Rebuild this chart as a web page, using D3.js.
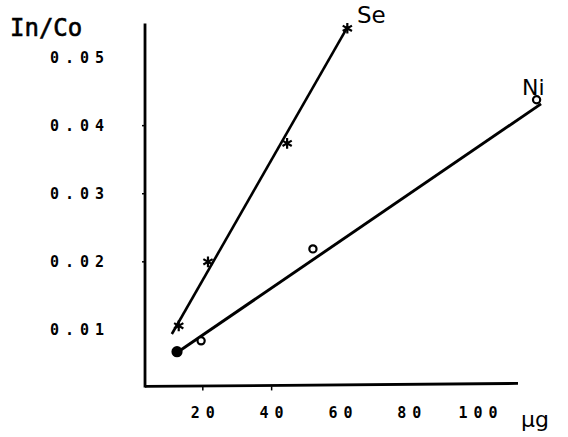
<!DOCTYPE html>
<html>
<head>
<meta charset="utf-8">
<script src="https://cdn.jsdelivr.net/npm/d3@7"></script>
<style>
  html, body { margin: 0; padding: 0; background: #fff; }
  svg { display: block; }
  .tick-label { font-family: "DejaVu Sans Mono", monospace; font-weight: bold; font-size: 15px; fill: #000; }
  .big { font-family: "DejaVu Sans Mono", monospace; fill: #000; }
</style>
</head>
<body>
<svg id="chart" width="568" height="437"></svg>
<script>
// Ratio In/Co versus amount (µg) for the Se and Ni series
const seX = [13, 21.5, 44.5, 62];
const seY = [0.0106, 0.0200, 0.0374, 0.0543];
const niX = [12.5, 19.5, 52, 117];
const niY = [0.0068, 0.0084, 0.0219, 0.0438];

// straight calibration lines (end points)
const seLineX = [11.0, 62.2];
const seLineY = [0.0094, 0.0546];
const niLineX = [11.9, 118.3];
const niLineY = [0.00646, 0.0432];

const yTickValues = [0.01, 0.02, 0.03, 0.04, 0.05];
const yTickLabels = ["0.01", "0.02", "0.03", "0.04", "0.05"];
const xTickValues = [20, 40, 60, 80, 100];
const xTickLabels = ["20", "40", "60", "80", "100"];

const svg = d3.select("#chart");

const x = d3.scaleLinear().domain([0, 111.6]).range([134, 518]);
const y = d3.scaleLinear().domain([0, 0.055]).range([398, 23.5]);

const xAxisStart = 3.2;
const yAxisStart = 0.0017;

// axes drawn as plain strokes
svg.append("line")
  .attr("x1", x(xAxisStart)).attr("x2", x(xAxisStart))
  .attr("y1", y(0.055)).attr("y2", y(yAxisStart) + 1)
  .attr("stroke", "#000").attr("stroke-width", 2.8);
svg.append("line")
  .attr("x1", x(xAxisStart)).attr("x2", x(111.6))
  .attr("y1", y(yAxisStart)).attr("y2", y(yAxisStart) - 3)
  .attr("stroke", "#000").attr("stroke-width", 2.8);

// small tick marks
svg.selectAll(".ytick").data([0.02, 0.03, 0.04]).enter().append("line")
  .attr("x1", x(xAxisStart) - 3).attr("x2", x(xAxisStart))
  .attr("y1", d => y(d)).attr("y2", d => y(d))
  .attr("stroke", "#000").attr("stroke-width", 1.5);
svg.selectAll(".xtick").data([20, 40]).enter().append("line")
  .attr("x1", d => x(d)).attr("x2", d => x(d))
  .attr("y1", y(yAxisStart)).attr("y2", y(yAxisStart) + 4)
  .attr("stroke", "#000").attr("stroke-width", 1.5);

// tick labels
svg.selectAll(".ylab").data(yTickValues).enter().append("text")
  .attr("class", "tick-label")
  .attr("x", 110)
  .attr("y", d => y(d) + 5)
  .attr("text-anchor", "end")
  .attr("letter-spacing", "6px")
  .text((d, i) => yTickLabels[i]);

svg.selectAll(".xlab").data(xTickValues).enter().append("text")
  .attr("class", "tick-label")
  .attr("x", d => x(d) + 3)
  .attr("y", 418)
  .attr("text-anchor", "middle")
  .attr("letter-spacing", "6px")
  .text((d, i) => xTickLabels[i]);

// axis titles
svg.append("text").attr("class", "big")
  .attr("x", 10).attr("y", 36).attr("font-size", 24)
  .attr("stroke", "#000").attr("stroke-width", 0.6)
  .text("In/Co");
svg.append("text")
  .attr("x", 521).attr("y", 427)
  .attr("font-family", "DejaVu Sans, sans-serif").attr("font-size", 22)
  .text("µg");

// fitted lines
const line = d3.line().x(d => x(d[0])).y(d => y(d[1]));
svg.append("path")
  .datum(d3.zip(seLineX, seLineY))
  .attr("d", line).attr("fill", "none")
  .attr("stroke", "#000").attr("stroke-width", 2.6);
svg.append("path")
  .datum(d3.zip(niLineX, niLineY))
  .attr("d", line).attr("fill", "none")
  .attr("stroke", "#000").attr("stroke-width", 2.9);

// Se markers: asterisks
const star = d3.symbol().type(d3.symbolAsterisk).size(80);
svg.selectAll(".se").data(d3.zip(seX, seY)).enter().append("path")
  .attr("d", star)
  .attr("transform", d => `translate(${x(d[0])},${y(d[1])})`)
  .attr("fill", "none").attr("stroke", "#000").attr("stroke-width", 2.2);

// Ni markers: open circles, first one filled
svg.selectAll(".ni").data(d3.zip(niX, niY)).enter().append("circle")
  .attr("cx", d => x(d[0])).attr("cy", d => y(d[1]))
  .attr("r", (d, i) => i === 0 ? 4.5 : 3.6)
  .attr("fill", (d, i) => i === 0 ? "#000" : "#fff")
  .attr("stroke", "#000").attr("stroke-width", 2.2);

// series labels
svg.append("text")
  .attr("x", x(seLineX[1]) + 9).attr("y", 23)
  .attr("font-family", "DejaVu Sans, sans-serif").attr("font-size", 23)
  .text("Se");
svg.append("text")
  .attr("x", 522).attr("y", 95)
  .attr("font-family", "DejaVu Sans, sans-serif").attr("font-size", 22)
  .text("Ni");
</script>
</body>
</html>
